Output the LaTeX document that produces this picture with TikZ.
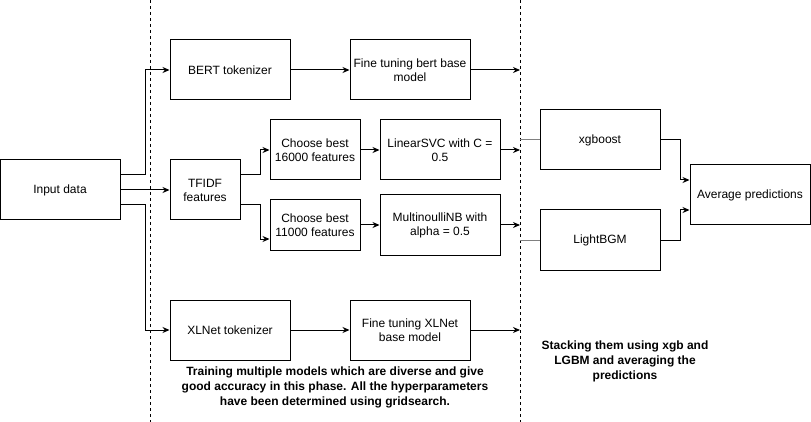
\documentclass[tikz,border=0pt]{standalone}
\usepackage{fontspec}
\setmainfont{Liberation Sans}
\usepackage{tikz}
\usetikzlibrary{arrows.meta,positioning}

\begin{document}
\begin{tikzpicture}[on grid,auto,
    box/.style={draw,line width=1pt,minimum width=120pt,minimum height=60pt,inner sep=0pt,align=center,font=\fontsize{12}{14}\selectfont},
    link/.style={line width=1pt,-{Stealth[length=7pt,width=6pt]}},
    phase/.style={line width=0.8pt,dash pattern=on 3pt off 3pt},
    note/.style={align=center,font=\bfseries\fontsize{12}{15}\selectfont}]
    \useasboundingbox (0,0) rectangle (811pt,-422pt);
    \coordinate (d1) at (150pt,0);
    \coordinate (d2) at (520pt,0);
    \draw[phase] (d1) -- ++(0,-422pt);
    \draw[phase] (d2) -- ++(0,-422pt);

    \node[box] (input) at (60pt,-190pt) {Input data};
    \node[box] (bert) [above right=120pt and 170pt of input] {BERT tokenizer};
    \node[box] (bertft) [right=180pt of bert] {Fine tuning bert base\\model};
    \node[box,minimum width=70pt] (tfidf) [right=145pt of input] {TFIDF\\features};
    \node[box,minimum width=90pt] (sel16) [above right=40pt and 110pt of tfidf] {Choose best\\16000 features};
    \node[box] (svc) [right=125pt of sel16] {LinearSVC with C =\\0.5};
    \node[box,minimum width=90pt,minimum height=50pt] (sel11) [below right=35pt and 110pt of tfidf] {Choose best\\11000 features};
    \node[box] (nb) [right=125pt of sel11] {MultinoulliNB with\\alpha = 0.5};
    \node[box] (xlnet) [below right=140pt and 170pt of input] {XLNet tokenizer};
    \node[box] (xlnetft) [right=180pt of xlnet] {Fine tuning XLNet\\base model};
    \node[box] (xgb) [above right=10pt and 160pt of svc] {xgboost};
    \node[box] (lgbm) [below right=15pt and 160pt of nb] {LightBGM};
    \node[box] (avg) [below right=55pt and 150pt of xgb] {Average predictions};

    \node[note] (trainnote) at (335pt,-387pt) {Training multiple models which are diverse and give\\good accuracy in this phase. All the hyperparameters\\have been determined using gridsearch.};
    \node[note] (stacknote) at (625pt,-361pt) {Stacking them using xgb and\\LGBM and averaging the\\predictions};

    % input data to the three branches
    \draw[link] ([yshift=15pt]input.east) -- ++(25pt,0) |- (bert);
    \draw[link] (input) -- (tfidf);
    \draw[link] ([yshift=-15pt]input.east) -- ++(25pt,0) |- (xlnet);

    \draw[link] (bert) -- (bertft);
    \draw[link] (xlnet) -- (xlnetft);
    \draw[link] ([yshift=15pt]tfidf.east) -- ++(20pt,0) |- (sel16);
    \draw[link] ([yshift=-15pt]tfidf.east) -- ++(20pt,0) |- ([yshift=-14pt]sel11.west);
    \draw[link] (sel16) -- (svc);
    \draw[link] (sel11) -- (nb);

    % into the stacking phase
    \draw[link] (bertft.east) -- (bertft.east -| d2);
    \draw[link] (svc.east) -- (svc.east -| d2);
    \draw[link] (nb.east) -- (nb.east -| d2);
    \draw[link] (xlnetft.east) -- (xlnetft.east -| d2);
    \draw[line width=1pt,gray] (xgb.west -| d2) -- (xgb.west);
    \draw[line width=1pt,gray] (lgbm.west -| d2) -- (lgbm.west);

    \draw[link] (xgb.east) -- ++(20pt,0) |- ([yshift=15pt]avg.west);
    \draw[link] (lgbm.east) -- ++(20pt,0) |- ([yshift=-15pt]avg.west);
\end{tikzpicture}
\end{document}
